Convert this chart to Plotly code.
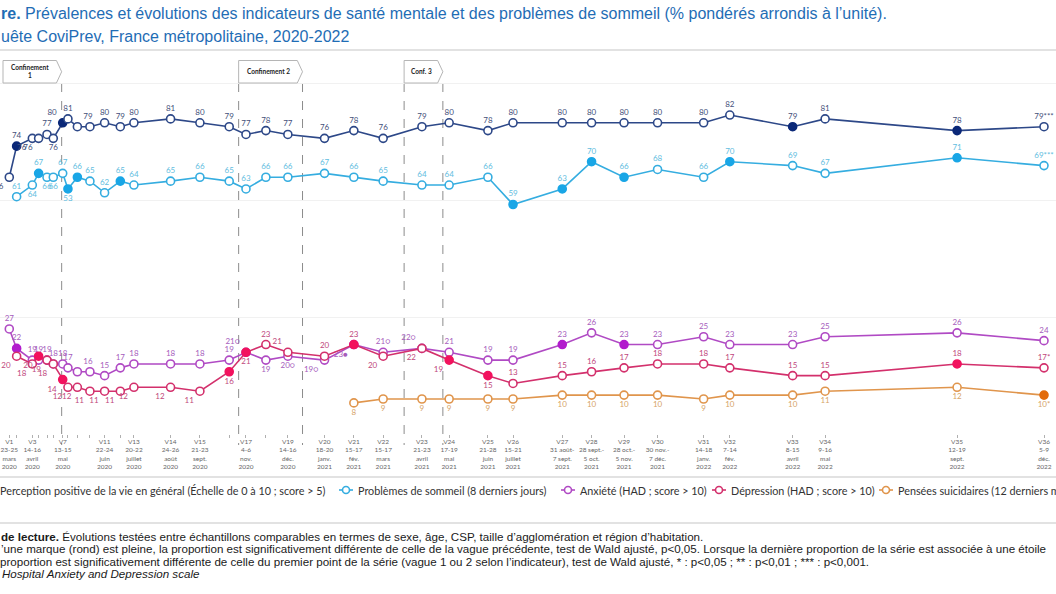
import pandas as pd
import plotly.graph_objects as go

# ---------------- data ----------------
waves = [f"V{i}" for i in range(1, 37)]
wave_dates = ["2020-03-24", "2020-03-31", "2020-04-15", "2020-04-21", "2020-04-29", "2020-05-05",
              "2020-05-14", "2020-05-19", "2020-05-28", "2020-06-09", "2020-06-23", "2020-07-08",
              "2020-07-21", "2020-08-25", "2020-09-22", "2020-10-20", "2020-11-05", "2020-11-24",
              "2020-12-15", "2021-01-19", "2021-02-16", "2021-03-16", "2021-04-22", "2021-05-18",
              "2021-06-24", "2021-07-18", "2021-09-03", "2021-10-01", "2021-11-01", "2021-12-03",
              "2022-01-16", "2022-02-10", "2022-04-11", "2022-05-12", "2022-09-15", "2022-12-07"]
tick_days = ["23-25", "", "14-16", "", "", "", "13-15", "", "", "", "22-24", "", "20-22", "24-26", "21-23", "",
             "4-6", "", "14-16", "18-20", "15-17", "15-17", "21-23", "17-19", "21-28", "15-21",
             "31 août-", "28 sept.-", "28 oct.-", "30 nov.-", "14-18", "7-14", "8-15", "9-16", "12-19", "5-9"]
tick_months = ["mars", "", "avril", "", "", "", "mai", "", "", "", "juin", "", "juillet", "août", "sept.", "",
               "nov.", "", "déc.", "janv.", "fév.", "mars", "avril", "mai", "juin", "juillet",
               "7 sept.", "5 oct.", "5 nov.", "7 déc.", "janv.", "fév.", "avril", "mai", "sept.", "déc."]
tick_years = ["2020", "", "2020", "", "", "", "2020", "", "", "", "2020", "", "2020", "2020", "2020", "",
              "2020", "", "2020", "2021", "2021", "2021", "2021", "2021", "2021", "2021",
              "2021", "2021", "2021", "2021", "2022", "2022", "2022", "2022", "2022", "2022"]

perception = [66, 74, 76, 76, 77, 76, 80, 81, 79, 79, 80, 79, 80, 81, 80, 79, 77, 78, 77, 76,
              78, 76, 79, 80, 78, 80, 80, 80, 80, 80, 80, 82, 79, 81, 78, 79]
sleep = [None, 61, 64, 67, 66, 66, 67, 63, 66, 65, 62, 65, 64, 65, 66, 65, 63, 66, 66, 67,
         66, 65, 64, 64, 66, 59, 63, 70, 66, 68, 66, 70, 69, 67, 71, 69]
anxiety = [27, 22, 19, 19, 19, 18, 18, 17, 16, 16, 15, 17, 18, 18, 18, 19, 21, 19, 20, 19,
           23, 21, 22, 21, 19, 19, 23, 26, 23, 23, 25, 23, 23, 25, 26, 24]
depression = [None, 20, 18, 20, 19, 18, 14, 12, 12, 11, 11, 11, 12, 12, 11, 16, 21, 23, 21, 20,
              23, 20, 22, 19, 15, 13, 15, 16, 17, 18, 18, 17, 15, 15, 18, 17]
suicidal = [None] * 20 + [8, 9, 9, 9, 9, 9, 10, 10, 10, 10, 9, 10, 10, 11, 12, 10]

# waves whose marker is filled (significant change vs previous wave)
perception_filled = [2, 7, 33, 35]
sleep_filled = [4, 8, 9, 12, 26, 27, 28, 29, 32, 35]
anxiety_filled = [2, 21, 27, 29]
depression_filled = [4, 7, 16, 17, 21, 24, 25, 35]
suicidal_filled = [36]

# label texts that differ from the plain value
perception_text = {10: "", 36: "79***"}
sleep_text = {7: "67", 8: "53", 36: "69***"}
anxiety_text = {10: "", 17: "21○", 19: "20○", 20: "19○", 21: "23●", 22: "21○", 23: "22○"}
depression_text = {36: "17*"}
suicidal_text = {36: "10*"}

series_names = ["Perception positive de la vie en général (Échelle de 0 à 10 ; score &gt; 5)",
                "Problèmes de sommeil (8 derniers jours)",
                "Anxiété (HAD ; score &gt; 10)",
                "Dépression (HAD ; score &gt; 10)",
                "Pensées suicidaires (12 derniers mois)"]

confinements = [("Confinement<br>1", "2020-03-18", "2020-05-13"),
                ("Confinement 2", "2020-10-29", "2020-12-29"),
                ("Conf. 3", "2021-04-05", "2021-05-12")]

# ---------------- layout helpers ----------------
W, H = 1056, 594
MT, MB = 45, 160
PH = H - MT - MB


def xp(rx):
    """window x (px) -> paper x"""
    return rx / W


def yp(ry):
    """window y (px) -> paper y"""
    return (MT + PH - ry) / PH


# label positions (style)
perception_pos = {1: "bottom left", 3: "bottom left", 4: "bottom left", 6: "bottom center",
                  7: "top left", 9: "top right"}
sleep_pos = {3: "bottom center", 5: "bottom center", 6: "bottom center", 8: "bottom center"}
anxiety_pos = {9: "top right", 17: "top left", 18: "bottom center", 19: "bottom center",
               20: "bottom left", 21: "bottom left", 23: "top left"}
depression_pos = {w: "bottom left" for w in range(2, 16)}
depression_pos.update({16: "bottom center", 17: "bottom center", 18: "top center", 19: "top left",
                       20: "top center", 21: "top center", 22: "bottom left", 23: "bottom left",
                       24: "bottom left", 25: "bottom center"})
suicidal_pos = {}

styles = [
    dict(vals=perception, filled=perception_filled, text=perception_text, pos=perception_pos, dpos="top center",
         line="#2d4888", fill="#0b2878", tcol="#44507a"),
    dict(vals=sleep, filled=sleep_filled, text=sleep_text, pos=sleep_pos, dpos="top center",
         line="#35ade0", fill="#19a6e6", tcol="#62bde0"),
    dict(vals=anxiety, filled=anxiety_filled, text=anxiety_text, pos=anxiety_pos, dpos="top center",
         line="#b04ac4", fill="#b21ccd", tcol="#a65cbc"),
    dict(vals=depression, filled=depression_filled, text=depression_text, pos=depression_pos,
         dpos="top center", line="#d3306c", fill="#f2125e", tcol="#c0477c"),
    dict(vals=suicidal, filled=suicidal_filled, text=suicidal_text, pos=suicidal_pos, dpos="bottom center",
         line="#e0954c", fill="#e26b0c", tcol="#d6a468"),
]

fig = go.Figure()
for name, st in zip(series_names, styles):
    xs, ys, txt, pos, fills, lines = [], [], [], [], [], []
    for i, v in enumerate(st["vals"]):
        if v is None:
            continue
        w = i + 1
        xs.append(wave_dates[i])
        ys.append(v)
        txt.append(st["text"].get(w, str(v)))
        pos.append(st["pos"].get(w, st["dpos"]))
        filled = w in st["filled"]
        fills.append(st["fill"] if filled else "white")
        lines.append(st["fill"] if filled else st["line"])
    fig.add_trace(go.Scatter(
        x=xs, y=ys, name=name, mode="lines+markers+text",
        line=dict(color=st["line"], width=1.6),
        marker=dict(size=8, color=fills, line=dict(color=lines, width=1.6)),
        text=txt, textposition=pos,
        textfont=dict(family="Lato", size=8, color=st["tcol"]),
        cliponaxis=False, showlegend=False, hoverinfo="skip"))

ticktext = []
for w, d, m, y in zip(waves, tick_days, tick_months, tick_years):
    ticktext.append(f"{w}<br>{d}<br>{m}<br>{y}" if d else "")

shapes = []
annotations = []


def ms(d):
    return pd.Timestamp(d).value // 10**6


DAY = 86400000
box_top, box_bot = 60.5, 83
for i, (lab, s, e) in enumerate(confinements):
    x0, x1 = ms(s), ms(e)
    tip = 5 * DAY
    path = (f"M {x0},{yp(box_top)} L {x1 - tip},{yp(box_top)} L {x1},{yp((box_top + box_bot) / 2)} "
            f"L {x1 - tip},{yp(box_bot)} L {x0},{yp(box_bot)} Z")
    shapes.append(dict(type="path", path=path, xref="x", yref="paper",
                       line=dict(color="#b5b5b5", width=1), fillcolor="white", layer="above"))
    annotations.append(dict(x=pd.Timestamp(s) + (pd.Timestamp(e) - pd.Timestamp(s)) / 2 - pd.Timedelta(days=2),
                            y=yp((box_top + box_bot) / 2), xref="x", yref="paper",
                            yanchor="middle", xanchor="center",
                            text=f"<b>{lab}</b>", showarrow=False,
                            font=dict(family="Lato", size=6.5, color="#222222")))
    ends = [e] if i == 0 else [s, e]
    for d in ends:
        shapes.append(dict(type="line", xref="x", yref="paper", x0=d, x1=d, y0=yp(box_bot), y1=yp(445),
                           line=dict(color="#8c8c8c", width=1, dash="dash"), layer="below"))

# separator lines
for yy in (50, 477, 523):
    shapes.append(dict(type="line", xref="paper", yref="paper", x0=0, x1=1, y0=yp(yy), y1=yp(yy),
                       line=dict(color="#d9d9d9", width=1.5)))

# manual legend
leg_marker_px = [-12, 346, 568, 719, 886]
leg_y = 490
for name, st, mx in zip(series_names, styles, leg_marker_px):
    shapes.append(dict(type="line", xref="paper", yref="paper", x0=xp(mx - 7), x1=xp(mx + 7),
                       y0=yp(leg_y), y1=yp(leg_y), line=dict(color=st["line"], width=1.6)))
    shapes.append(dict(type="circle", xref="paper", yref="paper", x0=xp(mx - 3.5), x1=xp(mx + 3.5),
                       y0=yp(leg_y - 3.5), y1=yp(leg_y + 3.5), fillcolor="white",
                       line=dict(color=st["line"], width=1.6)))
    annotations.append(dict(x=xp(mx + 10), y=yp(leg_y), xref="paper", yref="paper", xanchor="left",
                            yanchor="middle", text=name, showarrow=False,
                            font=dict(family="Lato", size=10.8, color="#333333")))

# title
title_lines = [
    ("<b>re.</b> Prévalences et évolutions des indicateurs de santé mentale et des problèmes de sommeil "
     "(% pondérés arrondis à l’unité).", 14),
    ("uête CoviPrev, France métropolitaine, 2020-2022", 36),
]
for t, yy in title_lines:
    annotations.append(dict(x=xp(-1), y=yp(yy), xref="paper", yref="paper", xanchor="left", yanchor="middle",
                            text=t, showarrow=False,
                            font=dict(family="Liberation Sans", size=16, color="#1f6db5")))

# footer
footer_lines = [
    ("<b>de lecture.</b> Évolutions testées entre échantillons comparables en termes de sexe, âge, CSP, "
     "taille d’agglomération et région d’habitation.", 536, -1),
    ("’une marque (rond) est pleine, la proportion est significativement différente de celle de la vague "
     "précédente, test de Wald ajusté, p&lt;0,05. Lorsque la dernière proportion de la série est associée "
     "à une étoile", 548.5, -1),
    ("proportion est significativement différente de celle du premier point de la série (vague 1 ou 2 selon "
     "l’indicateur), test de Wald ajusté, * : p&lt;0,05 ; ** : p&lt;0,01 ; *** : p&lt;0,001.", 561, -2),
    ("<i>Hospital Anxiety and Depression scale</i>", 573, 0),
]
for t, yy, xx in footer_lines:
    annotations.append(dict(x=xp(xx), y=yp(yy), xref="paper", yref="paper", xanchor="left", yanchor="middle",
                            text=t, showarrow=False,
                            font=dict(family="Liberation Sans", size=11.6, color="#1a1a1a")))

fig.update_layout(
    width=W, height=H, autosize=False,
    margin=dict(l=0, r=0, t=MT, b=MB, pad=0),
    paper_bgcolor="white", plot_bgcolor="white",
    showlegend=False,
    xaxis=dict(type="date", range=["2020-03-15 03:00", "2022-12-18 11:00"],
               tickmode="array", tickvals=wave_dates, ticktext=ticktext,
               ticks="outside", ticklen=3, tickcolor="#b0b0b0", tickwidth=1, ticklabelstandoff=-2,
               ticklabeloverflow="allow",
               tickfont=dict(family="Lato", size=6.5, color="#666666"),
               showgrid=False, zeroline=False, showline=False, fixedrange=True),
    yaxis=dict(range=[0, 100], dtick=30, showgrid=True, gridcolor="#f1f1f1", gridwidth=1,
               showticklabels=False, zeroline=False, showline=False, fixedrange=True),
    shapes=shapes,
    annotations=annotations,
)

fig.write_html("out.html", config={"displayModeBar": False},
               post_script="document.body.style.margin='0';document.body.style.overflow='hidden';")
